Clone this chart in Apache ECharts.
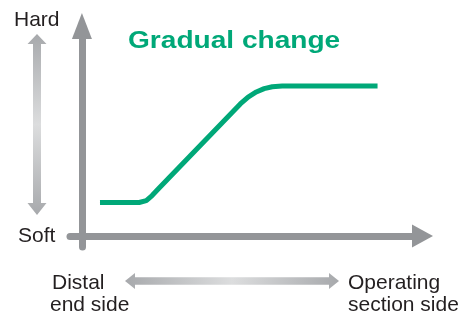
<!DOCTYPE html>
<html lang="en">
<head>
    <meta charset="UTF-8">
    <title>Gradual change</title>
    <script src="https://cdn.jsdelivr.net/npm/echarts@6.0.0/dist/echarts.min.js"></script>
    <style>
        body {
            margin: 0;
            padding: 0;
            background-color: #fff;
        }

        #chart {
            width: 461px;
            height: 320px;
        }
    </style>
</head>
<body>

<div id="chart"></div>

<script>
    // position along the device (0 = distal end, 100 = operating section)
    const positions = [5.3, 16.8, 18.9, 20.6, 22.4, 46.5, 48.8, 51.2, 53.5, 55.9, 58.8, 86.8];
    // stiffness (0 = soft, 100 = hard)
    const hardness = [16, 16, 16.9, 19.3, 22.4, 62.9, 66.2, 68.6, 70.2, 71.1, 71.4, 71.4];

    const titleText = 'Gradual change';
    const yEndLabels = ['Hard', 'Soft'];
    const xEndLabels = [['Distal', 'end side'], ['Operating', 'section side']];

    const green = '#00a878';
    const axisGray = '#939598';
    const textColor = '#231f20';
    const font = '21px "Liberation Sans", Arial, sans-serif';

    const chart = echarts.init(document.getElementById('chart'));

    const fadeV = new echarts.graphic.LinearGradient(0, 0, 0, 1, [
        { offset: 0, color: '#a7a9ac' },
        { offset: 0.5, color: '#dcddde' },
        { offset: 1, color: '#a7a9ac' }
    ]);
    const fadeH = new echarts.graphic.LinearGradient(0, 0, 1, 0, [
        { offset: 0, color: '#a7a9ac' },
        { offset: 0.5, color: '#dcddde' },
        { offset: 1, color: '#a7a9ac' }
    ]);

    const label = (text, x, y) => ({
        type: 'text',
        x: x,
        y: y,
        style: { text: text, font: font, fill: textColor, verticalAlign: 'middle' }
    });

    const option = {
        animation: false,
        grid: { left: 70, right: 38.5, top: 26, bottom: 73 },
        xAxis: {
            type: 'value',
            min: -3.5,
            max: 100,
            axisLine: {
                onZero: true,
                symbol: ['none', 'triangle'],
                symbolSize: [23, 21],
                lineStyle: { color: axisGray, width: 7 }
            },
            axisTick: { show: false },
            axisLabel: { show: false },
            splitLine: { show: false }
        },
        yAxis: {
            type: 'value',
            min: -5.2,
            max: 100,
            axisLine: {
                show: true,
                onZero: true,
                symbol: ['none', 'triangle'],
                symbolSize: [20, 26],
                lineStyle: { color: axisGray, width: 7 }
            },
            axisTick: { show: false },
            axisLabel: { show: false },
            splitLine: { show: false }
        },
        series: [{
            type: 'line',
            data: positions.map((p, i) => [p, hardness[i]]),
            symbol: 'none',
            smooth: false,
            lineStyle: { color: green, width: 5, join: 'round' }
        }],
        graphic: [
            {
                type: 'text',
                x: 128,
                y: 41,
                scaleX: 1.17,
                style: {
                    text: titleText,
                    font: 'bold 24px "Liberation Sans", Arial, sans-serif',
                    fill: green,
                    verticalAlign: 'middle'
                }
            },
            // soft <-> hard arrow
            {
                type: 'polygon',
                shape: {
                    points: [[37, 34], [46.5, 44], [41, 44], [41, 203], [46.5, 203], [37, 215],
                             [27.5, 203], [33, 203], [33, 44], [27.5, 44]]
                },
                style: { fill: fadeV }
            },
            // distal <-> operating arrow
            {
                type: 'polygon',
                shape: {
                    points: [[125, 281], [135, 273], [135, 277.2], [329, 277.2], [329, 273], [339, 281],
                             [329, 289], [329, 284.8], [135, 284.8], [135, 289]]
                },
                style: { fill: fadeH }
            },
            label(yEndLabels[0], 14, 20.5),
            label(yEndLabels[1], 18, 236),
            label(xEndLabels[0][0], 52, 283),
            label(xEndLabels[0][1], 50, 305),
            label(xEndLabels[1][0], 348, 283),
            label(xEndLabels[1][1], 348, 305)
        ]
    };

    chart.setOption(option);
</script>
</body>
</html>
